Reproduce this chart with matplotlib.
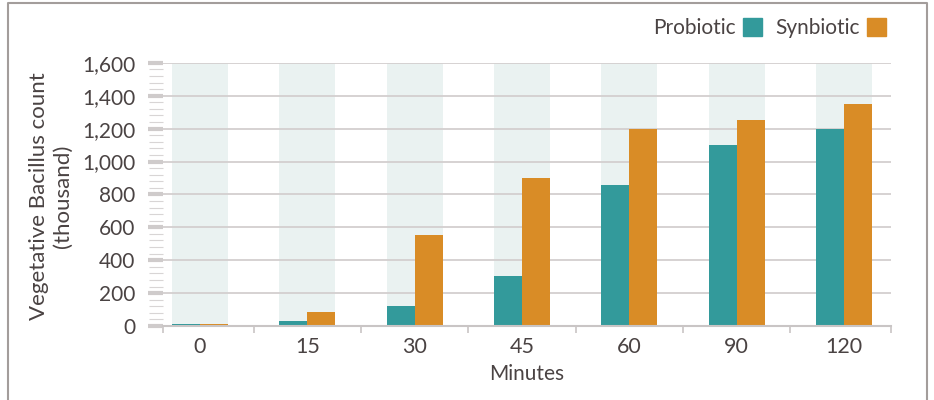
import numpy as np
import matplotlib.pyplot as plt
from matplotlib.ticker import MultipleLocator, FuncFormatter, FixedLocator
from matplotlib.patches import Patch
from matplotlib.lines import Line2D

minutes = ["0", "15", "30", "45", "60", "90", "120"]
probiotic = [15, 28, 120, 302, 855, 1102, 1200]
synbiotic = [15, 83, 552, 900, 1200, 1255, 1352]

teal = "#339a9b"
orange = "#d98c26"
band = "#eaf2f1"
grid = "#d3cfcf"
txt = "#4a4343"

plt.rcParams['font.family'] = ['Lato', 'DejaVu Sans']

fig = plt.figure(figsize=(9.34, 4.0), dpi=100)
ax = fig.add_axes([0.1745, 0.185, 0.7795, 0.658])

x = np.arange(len(minutes))
w = 0.261
for xi in x:
    ax.axvspan(xi - w, xi + w, ymin=0, ymax=1, color=band, lw=0, zorder=0)
ax.bar(x - w / 2, probiotic, w, color=teal, zorder=3)
ax.bar(x + w / 2, synbiotic, w, color=orange, zorder=3)

xl, xr = -0.345, 6.44
ax.set_xlim(xl, xr)
ax.set_ylim(0, 1600)

# gridlines
ax.yaxis.set_major_locator(MultipleLocator(200))
ax.yaxis.set_minor_locator(MultipleLocator(40))
ax.yaxis.set_major_formatter(FuncFormatter(lambda v, p: f"{int(v):,}"))
for yv in range(200, 1601, 200):
    ax.axhline(yv, color=grid, lw=1.3, zorder=1)

ax.tick_params(axis='y', which='major', length=11, width=3, color="#cfcbcb",
               pad=9, labelsize=15, labelcolor=txt)
ax.tick_params(axis='y', which='minor', length=10, width=0.8, color="#d8d5d5")

# x ticks at boundaries, labels at centres
ax.xaxis.set_major_locator(FixedLocator([xl] + [i + 0.5 for i in range(6)] + [xr]))
ax.xaxis.set_major_formatter(FuncFormatter(lambda v, p: ""))
ax.xaxis.set_minor_locator(FixedLocator(x))
ax.set_xticklabels(minutes, minor=True)
ax.tick_params(axis='x', which='major', length=5, width=1.2, color="#c9c5c5")
ax.tick_params(axis='x', which='minor', length=0, pad=8, labelsize=15.5, labelcolor=txt)

for s in ["left", "right", "top"]:
    ax.spines[s].set_visible(False)
ax.spines["bottom"].set_color("#c9c5c5")
ax.spines["bottom"].set_linewidth(1.5)
ax.spines["bottom"].set_zorder(4)

ax.set_xlabel("Minutes", fontsize=15, color=txt, labelpad=5)
fig.text(0.0545, 0.51, "Vegetative Bacillus count\n(thousand)", rotation=90,
         ha="center", va="center", fontsize=16, color=txt, linespacing=1.22)

handles = [Patch(color=teal), Patch(color=orange)]
leg = fig.legend(handles, ["Probiotic", "Synbiotic"], loc="upper right",
                 bbox_to_anchor=(0.958, 0.975), ncol=2, markerfirst=False,
                 frameon=False, fontsize=15, handlelength=0.95, handleheight=0.95,
                 handletextpad=0.35, columnspacing=0.6, borderaxespad=0)
for t in leg.get_texts():
    t.set_color(txt)

# outer frame (top, left, right)
fc = "#a39d9b"
fig.add_artist(Line2D([0.0091, 0.0091, 0.9925, 0.9925], [0, 0.9925, 0.9925, 0],
                      transform=fig.transFigure, color=fc, lw=1.5))

fig.savefig("out.png", dpi=100)
